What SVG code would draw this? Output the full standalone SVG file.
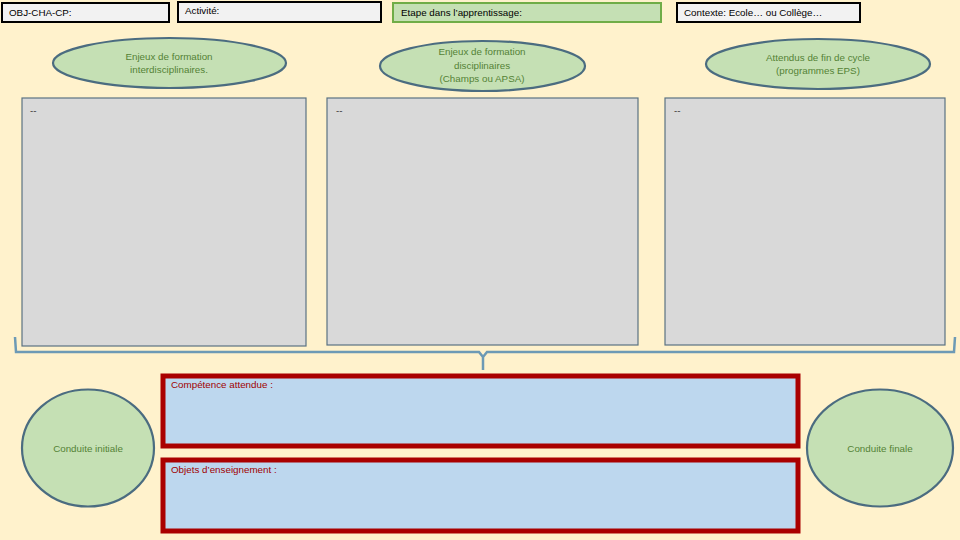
<svg xmlns="http://www.w3.org/2000/svg" width="960" height="540" viewBox="0 0 960 540">
<style>
text{font-family:"Liberation Sans","DejaVu Sans",sans-serif;font-size:9.8px}
.hdr{fill:#f2f2f2;stroke:#000;stroke-width:2}
.hdrg{fill:#c5e0b4;stroke:#70ad47;stroke-width:2}
.ht{fill:#000}
.ell{fill:#c5e0b4;stroke:#4b6c80;stroke-width:2.2}
.et{fill:#548235;text-anchor:middle}
.gray{fill:#d9d9d9;stroke:#5b7282;stroke-width:1.2}
.red{fill:#bdd7ee;stroke:#aa0000;stroke-width:5}
.rt{fill:#a00000}
.dash{fill:#333}
</style>
<rect width="960" height="540" fill="#fff2cc"/>
<g id="obj"><rect class="hdr" x="2" y="3" width="167" height="19"/><text class="ht" x="9" y="16">OBJ-CHA-CP:</text></g>
<g id="activite"><rect class="hdr" x="178" y="2" width="203" height="20"/><text class="ht" x="185" y="14">Activité:</text></g>
<g id="etape"><rect class="hdrg" x="393" y="3" width="268" height="19"/><text class="ht" x="401" y="16">Etape dans l’apprentissage:</text></g>
<g id="contexte"><rect class="hdr" x="677" y="3" width="183" height="19"/><text class="ht" x="684" y="16">Contexte: Ecole… ou Collège…</text></g>

<g id="enjeux-inter"><ellipse class="ell" cx="169.5" cy="63" rx="116.5" ry="25"/><text class="et" x="169" y="60">Enjeux de formation</text><text class="et" x="169" y="73">interdisciplinaires.</text></g>
<g id="enjeux-disc"><ellipse class="ell" cx="482.5" cy="66" rx="102.5" ry="25"/><text class="et" x="482" y="55">Enjeux de formation</text><text class="et" x="482" y="69">disciplinaires</text><text class="et" x="482" y="82">(Champs ou APSA)</text></g>
<g id="attendus"><ellipse class="ell" cx="818" cy="64" rx="112" ry="25"/><text class="et" x="818" y="61">Attendus de fin de cycle</text><text class="et" x="818" y="74">(programmes EPS)</text></g>

<g id="box1"><rect class="gray" x="22" y="98" width="284" height="248"/><text class="dash" x="30" y="114">--</text></g>
<g id="box2"><rect class="gray" x="327" y="98" width="311" height="247"/><text class="dash" x="336" y="114">--</text></g>
<g id="box3"><rect class="gray" x="665" y="98" width="280" height="247"/><text class="dash" x="674" y="114">--</text></g>

<g id="connectors"><path d="M15,337 L16,352 L479,352 L483,357 L483,370 M483,357 L487,352 L954,352 L955,337" fill="none" stroke="#6d9ab5" stroke-width="2.5"/></g>

<g id="competence"><rect class="red" x="163" y="376" width="635" height="70"/><text class="rt" x="171" y="388">Compétence attendue :</text></g>
<g id="objets"><rect class="red" x="163" y="460" width="635" height="71"/><text class="rt" x="171" y="473">Objets d’enseignement :</text></g>

<g id="conduite-initiale"><ellipse class="ell" cx="88" cy="448" rx="66" ry="58.5"/><text class="et" x="88" y="452">Conduite initiale</text></g>
<g id="conduite-finale"><ellipse class="ell" cx="880" cy="448" rx="73" ry="58.5"/><text class="et" x="880" y="452">Conduite finale</text></g>
</svg>
